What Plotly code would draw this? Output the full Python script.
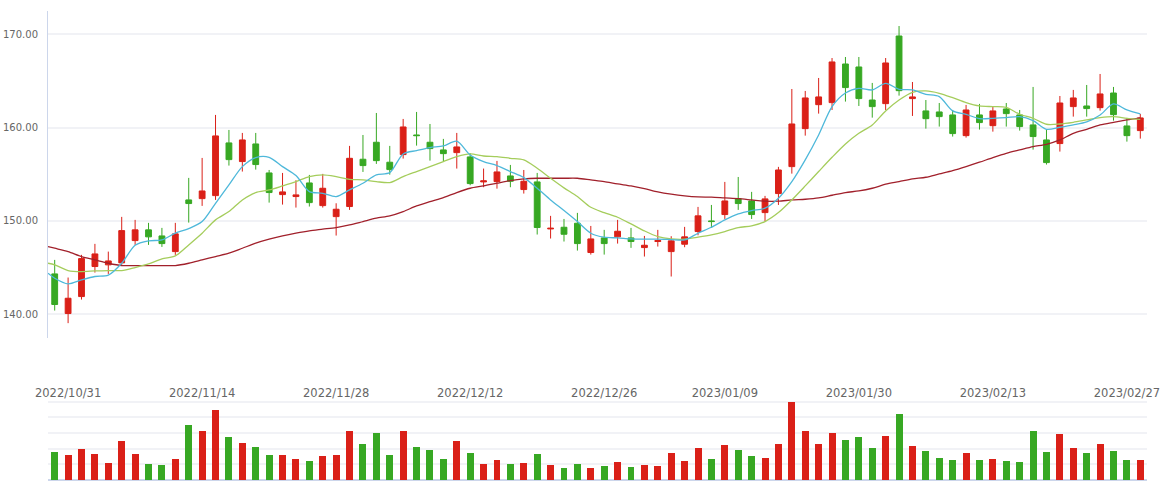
import plotly.graph_objects as go

# ---------------- data ----------------
dates = [
    "2022-10-28", "2022-10-31", "2022-11-01", "2022-11-02", "2022-11-03", "2022-11-04",
    "2022-11-07", "2022-11-08", "2022-11-09", "2022-11-10", "2022-11-11",
    "2022-11-14", "2022-11-15", "2022-11-16", "2022-11-17", "2022-11-18",
    "2022-11-21", "2022-11-22", "2022-11-23", "2022-11-24", "2022-11-25",
    "2022-11-28", "2022-11-29", "2022-11-30", "2022-12-01", "2022-12-02",
    "2022-12-05", "2022-12-06", "2022-12-07", "2022-12-08", "2022-12-09",
    "2022-12-12", "2022-12-13", "2022-12-14", "2022-12-15", "2022-12-16",
    "2022-12-19", "2022-12-20", "2022-12-21", "2022-12-22", "2022-12-23",
    "2022-12-26", "2022-12-27", "2022-12-28", "2022-12-29", "2022-12-30",
    "2023-01-03", "2023-01-04", "2023-01-05", "2023-01-06",
    "2023-01-09", "2023-01-10", "2023-01-11", "2023-01-12", "2023-01-13",
    "2023-01-16", "2023-01-17", "2023-01-18", "2023-01-19", "2023-01-20",
    "2023-01-30", "2023-01-31", "2023-02-01", "2023-02-02", "2023-02-03",
    "2023-02-06", "2023-02-07", "2023-02-08", "2023-02-09", "2023-02-10",
    "2023-02-13", "2023-02-14", "2023-02-15", "2023-02-16", "2023-02-17",
    "2023-02-20", "2023-02-21", "2023-02-22", "2023-02-23", "2023-02-24",
    "2023-02-27", "2023-02-28",
]

open_ = [
    144.32, 140.07, 141.89, 145.11, 145.29, 145.50, 147.89, 149.04, 148.39, 146.71,
    152.25, 152.39, 152.71, 158.36, 156.36, 158.25, 155.14, 152.82, 152.61, 154.07,
    151.64, 150.46, 151.54, 156.61, 158.43, 156.29, 157.11, 159.21, 158.43, 157.61,
    157.32, 156.86, 154.18, 154.21, 154.82, 153.36, 154.18, 149.14, 149.32, 149.75,
    146.61, 148.18, 148.29, 148.18, 147.14, 147.79, 146.71, 147.50, 148.86, 150.00,
    150.68, 152.39, 152.14, 150.89, 152.93, 155.82, 159.89, 162.46, 162.68, 166.82,
    166.50, 162.96, 162.57, 169.82, 163.11, 161.79, 161.68, 161.36, 159.14, 161.36,
    160.21, 162.00, 161.36, 160.29, 158.68, 158.29, 162.25, 162.32, 162.14, 163.71,
    160.18, 159.68,
]
high = [
    145.82, 143.93, 146.36, 147.54, 146.71, 150.43, 150.11, 149.79, 149.25, 149.79,
    154.61, 156.75, 161.36, 159.75, 159.43, 159.43, 155.46, 155.14, 154.36, 154.93,
    155.04, 151.89, 158.04, 159.21, 161.57, 158.04, 160.93, 161.68, 160.39, 158.79,
    159.43, 157.25, 155.61, 156.43, 156.00, 155.46, 155.14, 150.54, 150.21, 150.86,
    149.46, 149.04, 150.11, 149.25, 148.39, 149.04, 148.36, 149.36, 151.50, 151.71,
    154.18, 154.71, 153.11, 152.68, 155.79, 164.14, 163.93, 165.32, 167.46, 167.57,
    167.57, 164.79, 167.46, 170.89, 164.89, 162.96, 162.64, 161.89, 162.43, 162.54,
    162.21, 162.64, 161.89, 164.36, 159.79, 163.39, 164.04, 164.57, 165.75, 164.36,
    161.04, 161.46,
]
low = [
    140.39, 139.04, 141.57, 144.46, 144.32, 145.25, 147.43, 147.43, 147.21, 146.36,
    149.82, 151.61, 152.25, 155.93, 155.29, 155.50, 151.96, 151.75, 151.43, 151.54,
    151.43, 148.43, 151.18, 155.25, 156.11, 154.96, 156.68, 158.07, 156.46, 156.39,
    155.61, 153.82, 153.61, 153.46, 153.61, 152.93, 148.54, 148.11, 147.79, 146.82,
    146.39, 146.39, 147.57, 147.11, 146.18, 147.25, 144.04, 147.18, 148.46, 149.25,
    150.21, 151.18, 150.21, 149.96, 151.71, 155.07, 159.14, 161.50, 161.89, 162.79,
    162.32, 161.07, 161.89, 163.43, 161.25, 159.89, 160.11, 159.04, 158.93, 159.79,
    159.57, 160.11, 159.68, 157.64, 156.04, 157.43, 161.18, 161.18, 161.82, 160.75,
    158.50, 158.82,
]
close = [
    141.04, 141.71, 145.96, 146.46, 145.71, 148.96, 149.04, 148.29, 147.57, 148.61,
    151.86, 153.21, 159.11, 156.57, 158.68, 156.04, 153.04, 153.11, 152.79, 151.96,
    153.50, 151.25, 156.71, 155.93, 156.46, 155.50, 160.07, 159.14, 157.75, 157.21,
    157.93, 154.00, 154.29, 155.25, 154.25, 154.25, 149.29, 149.21, 148.57, 147.57,
    148.07, 147.57, 148.89, 147.79, 147.39, 147.89, 147.86, 148.29, 150.54, 149.93,
    152.14, 151.86, 150.68, 152.36, 155.46, 160.39, 163.18, 163.29, 167.04, 164.29,
    163.11, 162.25, 166.93, 163.96, 163.29, 160.96, 161.18, 159.36, 161.89, 160.54,
    161.79, 161.50, 160.11, 159.04, 156.25, 162.64, 163.18, 162.04, 163.61, 161.39,
    159.14, 161.04,
]
volume = [
    1.79, 1.60, 1.98, 1.66, 1.09, 2.49, 1.66, 1.02, 0.96, 1.34,
    3.51, 3.13, 4.47, 2.74, 2.36, 2.11, 1.60, 1.60, 1.34, 1.21,
    1.53, 1.60, 3.13, 2.30, 3.00, 1.60, 3.13, 2.11, 1.91, 1.34,
    2.49, 1.72, 1.02, 1.28, 1.02, 1.09, 1.66, 0.96, 0.77, 1.02,
    0.77, 0.89, 1.15, 0.83, 0.96, 0.89, 1.72, 1.21, 2.04, 1.34,
    2.23, 1.91, 1.53, 1.40, 2.30, 4.98, 3.13, 2.30, 3.00, 2.55,
    2.74, 2.04, 2.81, 4.21, 2.17, 1.85, 1.40, 1.28, 1.72, 1.28,
    1.34, 1.21, 1.15, 3.13, 1.79, 2.94, 2.04, 1.72, 2.30, 1.85,
    1.28, 1.28,
]

# moving-average lines (first value = left plot edge)
ma5 = [
    144.39,
    143.86, 143.25, 143.68, 144.04, 144.18, 145.46, 147.39, 147.86, 147.96, 148.68,
    149.18, 149.93, 151.89, 153.86, 155.82, 156.79, 156.82, 155.82, 154.86, 153.14,
    152.96, 152.61, 153.32, 154.04, 154.93, 155.18, 157.18, 157.54, 157.86, 158.04,
    158.54, 157.07, 156.36, 155.93, 155.29, 154.64, 153.50, 152.25, 151.11, 149.93,
    148.68, 148.25, 148.18, 148.07, 148.04, 148.04, 148.00, 147.96, 148.68, 149.32,
    150.11, 150.75, 151.11, 151.36, 152.43, 154.21, 156.54, 159.21, 162.25, 163.71,
    164.21, 164.04, 164.75, 164.11, 164.04, 163.57, 163.32, 161.79, 161.43, 160.96,
    161.00, 161.07, 161.18, 160.75, 159.82, 160.04, 160.29, 160.61, 161.36, 162.54,
    161.89, 161.46,
]
ma10 = [
    145.46,
    145.29, 144.68, 144.57, 144.64, 144.68, 144.68, 145.00, 145.39, 145.93, 146.25,
    147.43, 148.68, 150.11, 151.00, 152.25, 153.04, 153.32, 153.75, 154.21, 154.75,
    154.93, 154.75, 154.46, 154.39, 154.21, 154.11, 154.75, 155.29, 155.82, 156.36,
    156.89, 157.18, 156.96, 156.89, 156.71, 156.54, 155.64, 154.57, 153.54, 152.61,
    151.46, 150.89, 150.39, 149.68, 148.93, 148.32, 148.07, 148.04, 148.25, 148.50,
    148.86, 149.29, 149.46, 149.93, 150.89, 152.25, 153.75, 155.29, 156.82, 158.25,
    159.39, 160.29, 161.79, 162.96, 163.79, 163.93, 163.68, 163.21, 162.68, 162.32,
    162.25, 162.18, 161.43, 161.00, 160.36, 160.39, 160.57, 160.82, 161.07, 161.18,
    161.00, 160.89,
]
ma30 = [
    147.25,
    147.07, 146.71, 146.18, 145.82, 145.46, 145.21, 145.21, 145.21, 145.21, 145.21,
    145.46, 145.82, 146.18, 146.54, 147.07, 147.61, 148.04, 148.39, 148.68, 148.93,
    149.11, 149.29, 149.57, 149.93, 150.29, 150.54, 151.00, 151.61, 152.07, 152.50,
    153.04, 153.50, 153.75, 154.04, 154.32, 154.50, 154.57, 154.57, 154.57, 154.57,
    154.39, 154.21, 153.96, 153.75, 153.46, 153.11, 152.86, 152.68, 152.57, 152.54,
    152.46, 152.39, 152.25, 152.11, 152.11, 152.25, 152.32, 152.46, 152.75, 153.04,
    153.21, 153.50, 153.93, 154.21, 154.50, 154.68, 155.04, 155.39, 155.82, 156.29,
    156.79, 157.25, 157.61, 157.96, 158.21, 158.68, 159.39, 159.82, 160.29, 160.57,
    160.82, 161.04,
]

tick_dates = ["2022-10-31", "2022-11-14", "2022-11-28", "2022-12-12", "2022-12-26",
              "2023-01-09", "2023-01-30", "2023-02-13", "2023-02-27"]
price_ticks = [140, 150, 160, 170]

# ---------------- styling ----------------
RED = "#da2018"
GREEN = "#37a823"
C_MA5 = "#4eb8da"
C_MA10 = "#a5cd5c"
C_MA30 = "#a1202b"
GRID = "#f1f2f6"
AXIS = "#ccd6eb"
FONT = "DejaVu Sans"

xs = list(range(len(dates)))
ma_x = [-0.5] + xs

fig = go.Figure()

fig.add_trace(go.Candlestick(
    x=xs, open=open_, high=high, low=low, close=close,
    increasing=dict(line=dict(color=RED, width=1), fillcolor=RED),
    decreasing=dict(line=dict(color=GREEN, width=1), fillcolor=GREEN),
    whiskerwidth=0, showlegend=False, xaxis="x", yaxis="y",
))

for vals, col in [(ma30, C_MA30), (ma10, C_MA10), (ma5, C_MA5)]:
    fig.add_trace(go.Scatter(
        x=ma_x, y=vals, mode="lines",
        line=dict(color=col, width=1.3, shape="spline", smoothing=0.8),
        showlegend=False, hoverinfo="skip", xaxis="x", yaxis="y",
    ))

vol_colors = [RED if c >= o else GREEN for o, c in zip(open_, close)]
fig.add_trace(go.Bar(
    x=xs, y=volume, marker=dict(color=vol_colors, line=dict(width=0)),
    width=0.52, showlegend=False, xaxis="x2", yaxis="y2",
))

tickvals = [dates.index(d) for d in tick_dates]
ticktext = [d.replace("-", "/") for d in tick_dates]

fig.update_layout(
    width=1163, height=483,
    margin=dict(l=45, r=9, t=11, b=3),
    paper_bgcolor="white", plot_bgcolor="white",
    boxgap=0.38,
    bargap=0,
    font=dict(family=FONT, color="#666666"),
    xaxis=dict(
        domain=[0, 1], range=[-0.5, 81.5], anchor="y",
        showticklabels=False, showgrid=False, zeroline=False, showline=False,
        rangeslider=dict(visible=False), ticks="",
    ),
    yaxis=dict(
        domain=[0.3028, 1], range=[137.45, 172.5], anchor="x",
        tickvals=price_ticks, tickformat=".2f",
        showgrid=True, gridcolor=GRID, gridwidth=2,
        zeroline=False, showline=True, linecolor=AXIS, linewidth=1,
        ticks="", ticklabelstandoff=7,
        tickfont=dict(family=FONT, size=10, color="#666666"),
    ),
    xaxis2=dict(
        domain=[0, 1], range=[-0.5, 81.5], anchor="y2", matches="x",
        side="top", ticklabelposition="inside", ticklabeloverflow="allow",
        tickvals=tickvals, ticktext=ticktext, ticks="",
        showgrid=False, zeroline=False, showline=False,
        tickfont=dict(family=FONT, size=11.5, color="#666666"),
    ),
    yaxis2=dict(
        domain=[0, 0.2004], range=[0, 6], anchor="x2", dtick=1,
        showticklabels=False, showgrid=True, gridcolor=GRID, gridwidth=2,
        zeroline=True, zerolinecolor=AXIS, zerolinewidth=1.5, showline=False,
    ),
)

fig.write_html("out.html")
